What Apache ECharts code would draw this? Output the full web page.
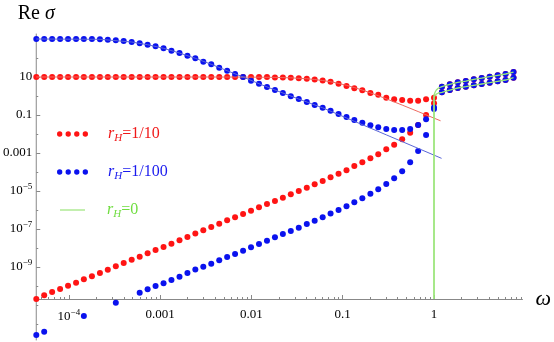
<!DOCTYPE html>
<html>
<head>
<meta charset="utf-8">
<script src="https://cdn.jsdelivr.net/npm/echarts@6/dist/echarts.min.js"></script>
<style>
  html, body { margin: 0; padding: 0; background: #fff; }
  #chart { width: 554px; height: 342px; }
</style>
</head>
<body>
<div id="chart"></div>
<script>
// frequency grid shared by the dotted curves
const omega = [
  4.40e-5, 5.37e-5, 6.56e-5, 8.02e-5, 9.80e-5, 1.20e-4, 1.46e-4, 1.79e-4, 2.19e-4, 2.67e-4,
  3.27e-4, 3.99e-4, 4.88e-4, 5.97e-4, 7.29e-4, 8.91e-4, 1.09e-3, 1.33e-3, 1.63e-3, 1.99e-3,
  2.43e-3, 2.97e-3, 3.63e-3, 4.44e-3, 5.42e-3, 6.62e-3, 8.10e-3, 9.90e-3, 1.21e-2, 1.48e-2,
  1.81e-2, 2.21e-2, 2.70e-2, 3.30e-2, 4.04e-2, 4.93e-2, 6.03e-2, 7.36e-2, 9.00e-2, 0.110,
  0.134, 0.164, 0.201, 0.245, 0.300, 0.366, 0.448, 0.548, 0.670, 0.819,
  1.00, 1.22, 1.49, 1.82, 2.23, 2.73, 3.33, 4.07, 4.98, 6.08,
  7.43
];

// r_H = 1/10
const redUpper = [
  10, 10, 10, 10, 10, 10, 10, 10, 10, 10,
  10, 10, 10, 10, 10, 10, 10, 10, 10, 10,
  10, 10, 10, 10, 10, 10, 10, 10, 10, 10,
  9.55, 9.3, 9.05, 8.64, 8.1, 7.4, 6.56, 5.62, 4.4, 3.4,
  2.6, 2.0, 1.45, 1.15, 0.81, 0.67, 0.62, 0.57, 0.57, 0.67,
  0.81, 3.09, 4.13, 5.26, 6.15, 7.57, 8.85, 10.4, 12.3, 14.4,
  18.3
];
const redLower = [
  2.07e-11, 3.24e-11, 4.83e-11, 6.95e-11, 1.04e-10, 1.49e-10, 2.25e-10, 3.24e-10, 4.83e-10, 7.21e-10,
  1.09e-9, 1.62e-9, 2.42e-9, 3.48e-9, 5.26e-9, 7.85e-9, 1.13e-8, 1.68e-8, 2.54e-8, 3.79e-8,
  5.80e-8, 8.55e-8, 1.27e-7, 1.90e-7, 2.87e-7, 4.13e-7, 6.15e-7, 9.18e-7, 1.39e-6, 2.07e-6,
  2.98e-6, 4.44e-6, 6.70e-6, 1.0e-5, 1.49e-5, 2.25e-5, 3.36e-5, 5.32e-5, 8.15e-5, 1.23e-4,
  2.07e-4, 3.24e-4, 5.26e-4, 8.55e-4, 1.57e-3, 2.70e-3, 5.32e-3, 1.17e-2, 2.98e-2, 0.1,
  0.413, 1.57, 2.07, 2.64, 3.09, 3.66, 4.28, 5.01, 5.94, 6.95,
  9.19
];

// r_H = 1/100 (null where the value is not positive)
const blueUpper = [
  1000, 1000, 1000, 1000, 1000, 1000, 1000, 1000, 964, 918,
  855, 785, 695, 594, 501, 413, 324, 242, 183, 132,
  96.4, 63.8, 46.6, 30.9, 21.5, 14.4, 10, 6.38, 4.44, 2.98,
  2.07, 1.44, 0.964, 0.695, 0.483, 0.336, 0.242, 0.168, 0.113, 0.0785,
  0.0546, 0.0394, 0.0287, 0.0225, 0.0183, 0.0162, 0.0162, 0.0183, 0.0298, 0.0594,
  0.248, 3.09, 4.13, 5.26, 6.15, 7.57, 8.85, 10.4, 12.3, 14.4,
  18.3
];
const blueLower = [
  2.63e-13, 3.94e-13, null, null, null, null, 2.63e-12, null, null, null,
  1.32e-11, null, null, 4.44e-11, 6.70e-11, 1.0e-10, 1.39e-10, 2.07e-10, 3.08e-10, 4.83e-10,
  7.38e-10, 1.04e-9, 1.49e-9, 2.25e-9, 3.36e-9, 4.83e-9, 7.21e-9, 1.09e-8, 1.62e-8, 2.42e-8,
  3.66e-8, 5.46e-8, 7.85e-8, 1.17e-7, 1.83e-7, 2.73e-7, 4.13e-7, 6.55e-7, 1.0e-6, 1.58e-6,
  2.54e-6, 4.13e-6, 7.21e-6, 1.23e-5, 2.33e-5, 4.66e-5, 1.09e-4, 3.24e-4, 1.27e-3, 8.86e-3,
  0.207, 1.57, 2.07, 2.64, 3.09, 3.66, 4.28, 5.01, 5.94, 6.95,
  9.19
];

// thin reference curves
const redLineOmega = [4.4e-5, 2.43e-3, 6.62e-3, 1.21e-2, 1.81e-2, 2.70e-2, 4.04e-2, 4.93e-2, 6.03e-2, 7.36e-2,
  9.0e-2, 0.110, 0.134, 0.164, 0.201, 0.245, 0.300, 0.448, 0.670, 1.00, 1.18];
const redLine = [10, 10, 9.94, 9.79, 9.55, 9.05, 8.10, 7.4, 6.56, 5.62,
  4.62, 3.65, 2.79, 2.05, 1.47, 1.04, 0.716, 0.334, 0.152, 0.0685, 0.0497];
const blueLineOmega = [4.4e-5, 2.19e-4, 4.88e-4, 7.29e-4, 1.09e-3, 1.63e-3, 2.43e-3, 3.63e-3, 5.42e-3, 8.10e-3,
  1.21e-2, 1.81e-2, 3.30e-2, 6.03e-2, 0.134, 0.300, 0.670, 1.21];
const blueLine = [1000, 964, 695, 501, 324, 183, 96.4, 46.6, 21.5, 10,
  4.44, 2.07, 0.695, 0.239, 0.0469, 9.05e-3, 1.76e-3, 5.25e-4];

// r_H = 0
const greenOmega = [1.0, 1.0, 1.03, 1.06, 1.12, 1.22, 1.49, 1.82, 2.23, 2.73, 3.33, 4.07, 4.98, 6.08, 7.43];
const greenUpper = [2.07e-11, 1.13, 1.62, 2.07, 2.64, 3.09, 4.13, 5.26, 6.15, 7.57, 8.85, 10.4, 12.3, 14.4, 18.3];
const greenLower = [2.07e-11, 0.885, 1.1, 1.27, 1.44, 1.57, 2.07, 2.64, 3.09, 3.66, 4.28, 5.01, 5.94, 6.95, 9.19];

// ticks
const xTickValues = [1e-4, 1e-3, 0.01, 0.1, 1];
const xTickLabels = ['10^-4', '0.001', '0.01', '0.1', '1'];
const xMinorTicks = [5e-5, 6e-5, 7e-5, 8e-5, 9e-5,
  2e-4, 3e-4, 4e-4, 5e-4, 6e-4, 7e-4, 8e-4, 9e-4,
  2e-3, 3e-3, 4e-3, 5e-3, 6e-3, 7e-3, 8e-3, 9e-3,
  0.02, 0.03, 0.04, 0.05, 0.06, 0.07, 0.08, 0.09,
  0.2, 0.3, 0.4, 0.5, 0.6, 0.7, 0.8, 0.9,
  2, 3, 4, 5, 6, 7, 8, 9];
const yTickValues = [10, 0.1, 0.001, 1e-5, 1e-7, 1e-9];
const yTickLabels = ['10', '0.1', '0.001', '10^-5', '10^-7', '10^-9'];
const yMinorTicks = [1000, 100, 1, 0.01, 1e-4, 1e-6, 1e-8, 1e-10, 1e-11, 1e-12];

const FONT = 'Liberation Serif';
const AXIS_COLOR = '#888';
const RED = '#ff1414';
const BLUE = '#0a12ee';
const GREEN = '#9be57a';

function pairs(xs, ys) {
  return xs.map((x, i) => [x, ys[i]]).filter(p => p[1] != null);
}

function tickText(v, values, labels) {
  for (let i = 0; i < values.length; i++) {
    if (Math.abs(Math.log10(v / values[i])) < 0.01) {
      const t = labels[i];
      if (t.indexOf('^') > 0) {
        const p = t.split('^');
        return '{n|' + p[0] + '}{s|' + p[1].replace('-', '\u2212') + '}';
      }
      return '{n|' + t + '}';
    }
  }
  return '';
}

const tickRich = {
  n: { fontFamily: FONT, fontSize: 13, color: '#000' },
  s: { fontFamily: FONT, fontSize: 9, color: '#000', padding: [0, 0, 8, 0] }
};

function legendText(name) {
  const p = name.split('_H');
  return '{r|r}{h|H}{t|' + p[1] + '}';
}
function legendRich(color, gap) {
  return {
    r: { fontFamily: FONT, fontSize: 16, fontStyle: 'italic', color: color, padding: [0, 0, 0, gap] },
    h: { fontFamily: FONT, fontSize: 11, fontStyle: 'italic', color: color, padding: [8, 0, 0, 0] },
    t: { fontFamily: FONT, fontSize: 16, color: color }
  };
}
// four small dots in a 31 x 6 box
const dotsIcon = 'path://M0.4,3a2.6,2.6 0 1,0 5.2,0a2.6,2.6 0 1,0 -5.2,0Z' +
  'M8.73,3a2.6,2.6 0 1,0 5.2,0a2.6,2.6 0 1,0 -5.2,0Z' +
  'M17.07,3a2.6,2.6 0 1,0 5.2,0a2.6,2.6 0 1,0 -5.2,0Z' +
  'M25.4,3a2.6,2.6 0 1,0 5.2,0a2.6,2.6 0 1,0 -5.2,0Z';

const chart = echarts.init(document.getElementById('chart'), null, { renderer: 'canvas' });

function dots(name, data, color) {
  return {
    name: name, type: 'scatter', data: data,
    symbol: 'circle', symbolSize: 6, clip: false,
    itemStyle: { color: color, opacity: 1 },
    emphasis: { disabled: true }
  };
}
function thin(name, data, color, width) {
  return {
    name: name, type: 'line', data: data, showSymbol: false, symbol: 'none',
    lineStyle: { color: color, width: width }, clip: false,
    emphasis: { disabled: true }
  };
}

chart.setOption({
  animation: false,
  backgroundColor: '#fff',
  grid: { left: 35, right: 30, top: 34, bottom: 2 },
  legend: [
    {
      left: 52, top: 121, itemWidth: 31, itemHeight: 6, selectedMode: false,
      data: [{ name: 'r_H=1/10', icon: dotsIcon, itemStyle: { color: RED } }],
      formatter: legendText, textStyle: { rich: legendRich('#f01818', 15) }
    },
    {
      left: 52, top: 159, itemWidth: 31, itemHeight: 6, selectedMode: false,
      data: [{ name: 'r_H=1/100', icon: dotsIcon, itemStyle: { color: BLUE } }],
      formatter: legendText, textStyle: { rich: legendRich('#1a1aee', 15) }
    },
    {
      left: 55, top: 197, itemWidth: 25, itemHeight: 1.2, selectedMode: false,
      data: [{ name: 'r_H=0', icon: 'rect', itemStyle: { color: GREEN } }],
      formatter: legendText, textStyle: { rich: legendRich('#70dd40', 17) }
    }
  ],
  xAxis: [
    {
      type: 'log', position: 'bottom', min: 4.395e-5, max: 9.31, offset: -41,
      name: 'ω', nameLocation: 'end', nameGap: 13,
      nameTextStyle: { fontFamily: FONT, fontSize: 22, fontStyle: 'italic', color: '#000' },
      axisLine: { onZero: false, lineStyle: { color: AXIS_COLOR, width: 1 } },
      axisTick: { inside: true, length: 4, customValues: xTickValues, lineStyle: { color: AXIS_COLOR } },
      axisLabel: {
        customValues: xTickValues, margin: 9,
        formatter: v => tickText(v, xTickValues, xTickLabels), rich: tickRich
      },
      splitLine: { show: false }
    },
    {
      type: 'log', position: 'bottom', min: 4.395e-5, max: 9.31, offset: -41,
      axisLine: { show: false, onZero: false },
      axisTick: { inside: true, length: 2, customValues: xMinorTicks, lineStyle: { color: AXIS_COLOR } },
      axisLabel: { show: false },
      splitLine: { show: false }
    }
  ],
  yAxis: [
    {
      type: 'log', position: 'left', min: 1.45e-13, max: 1833,
      name: '{a|Re }{b|σ}', nameLocation: 'end', nameGap: 10,
      nameTextStyle: {
        rich: {
          a: { fontFamily: FONT, fontSize: 20, color: '#000' },
          b: { fontFamily: FONT, fontSize: 20, fontStyle: 'italic', color: '#000' }
        }
      },
      axisLine: { onZero: false, lineStyle: { color: AXIS_COLOR, width: 1 } },
      axisTick: { inside: true, length: 4, customValues: yTickValues, lineStyle: { color: AXIS_COLOR } },
      axisLabel: {
        customValues: yTickValues, margin: 4,
        formatter: v => tickText(v, yTickValues, yTickLabels), rich: tickRich
      },
      splitLine: { show: false }
    },
    {
      type: 'log', position: 'left', min: 1.45e-13, max: 1833,
      axisLine: { show: false, onZero: false },
      axisTick: { inside: true, length: 2, customValues: yMinorTicks, lineStyle: { color: AXIS_COLOR } },
      axisLabel: { show: false },
      splitLine: { show: false }
    }
  ],
  series: [
    thin('r_H=1/10', pairs(redLineOmega, redLine), '#ee6a60', 1),
    thin('r_H=1/100', pairs(blueLineOmega, blueLine), '#5a66d8', 1),
    thin('r_H=0', pairs(greenOmega, greenUpper), GREEN, 1.3),
    thin('r_H=0', pairs(greenOmega, greenLower), GREEN, 1.3),
    dots('r_H=1/10', pairs(omega, redUpper), RED),
    dots('r_H=1/10', pairs(omega, redLower), RED),
    dots('r_H=1/100', pairs(omega, blueUpper), BLUE),
    dots('r_H=1/100', pairs(omega, blueLower), BLUE)
  ]
});
</script>
</body>
</html>
